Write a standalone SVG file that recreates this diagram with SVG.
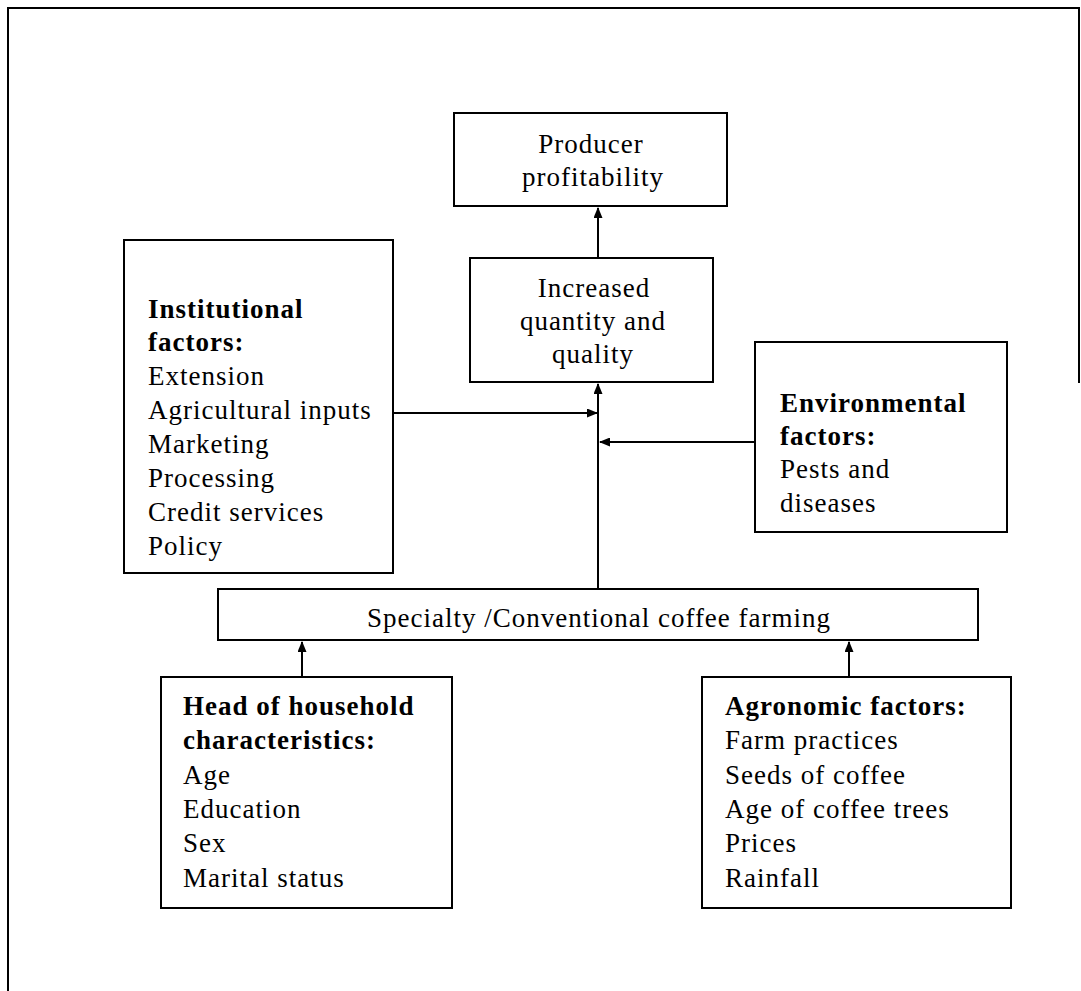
<svg xmlns="http://www.w3.org/2000/svg" width="1081" height="991" viewBox="0 0 1081 991">
<style>
.box{fill:#fff;stroke:#000;stroke-width:2}
.t{font-family:"Liberation Serif","Times New Roman",serif;font-size:27px;letter-spacing:1px;fill:#000}
.b{font-weight:bold}
.c{text-anchor:middle}
.ln{stroke:#000;stroke-width:2;fill:none}
</style>
<defs>
<marker id="ah" markerUnits="userSpaceOnUse" markerWidth="11" markerHeight="9" refX="10" refY="4.5" orient="auto">
<path d="M0,0 L11,4.5 L0,9 z" fill="#000"/>
</marker>
</defs>
<rect width="1081" height="991" fill="#fff"/>
<path class="ln" d="M8,991 V8 H1079 V383"/>
<g id="connectors">
<line class="ln" x1="598" y1="258" x2="598" y2="208" marker-end="url(#ah)"/>
<line class="ln" x1="598" y1="589" x2="598" y2="384" marker-end="url(#ah)"/>
<line class="ln" x1="393" y1="413" x2="597" y2="413" marker-end="url(#ah)"/>
<line class="ln" x1="755" y1="442" x2="600" y2="442" marker-end="url(#ah)"/>
<line class="ln" x1="302" y1="677" x2="302" y2="642" marker-end="url(#ah)"/>
<line class="ln" x1="849" y1="677" x2="849" y2="642" marker-end="url(#ah)"/>
</g>
<g id="producer">
<rect class="box" x="454" y="113" width="273" height="93"/>
<text class="t c" x="591" y="153">Producer</text>
<text class="t c" x="593" y="186">profitability</text>
</g>
<g id="increased">
<rect class="box" x="470" y="258" width="243" height="124"/>
<text class="t c" x="594" y="297">Increased</text>
<text class="t c" x="593" y="330">quantity and</text>
<text class="t c" x="593" y="363">quality</text>
</g>
<g id="institutional">
<rect class="box" x="124" y="240" width="269" height="333"/>
<text class="t b" x="148" y="318">Institutional</text>
<text class="t b" x="148" y="351">factors:</text>
<text class="t" x="148" y="385">Extension</text>
<text class="t" x="148" y="419">Agricultural inputs</text>
<text class="t" x="148" y="453">Marketing</text>
<text class="t" x="148" y="487">Processing</text>
<text class="t" x="148" y="521">Credit services</text>
<text class="t" x="148" y="555">Policy</text>
</g>
<g id="environmental">
<rect class="box" x="755" y="342" width="252" height="190"/>
<text class="t b" x="780" y="412">Environmental</text>
<text class="t b" x="780" y="445">factors:</text>
<text class="t" x="780" y="478">Pests and</text>
<text class="t" x="780" y="512">diseases</text>
</g>
<g id="farming">
<rect class="box" x="218" y="589" width="760" height="51"/>
<text class="t c" x="599" y="627">Specialty /Conventional coffee farming</text>
</g>
<g id="household">
<rect class="box" x="161" y="677" width="291" height="231"/>
<text class="t b" x="183" y="715">Head of household</text>
<text class="t b" x="183" y="749">characteristics:</text>
<text class="t" x="183" y="784">Age</text>
<text class="t" x="183" y="818">Education</text>
<text class="t" x="183" y="852">Sex</text>
<text class="t" x="183" y="887">Marital status</text>
</g>
<g id="agronomic">
<rect class="box" x="702" y="677" width="309" height="231"/>
<text class="t b" x="725" y="715">Agronomic factors:</text>
<text class="t" x="725" y="749">Farm practices</text>
<text class="t" x="725" y="784">Seeds of coffee</text>
<text class="t" x="725" y="818">Age of coffee trees</text>
<text class="t" x="725" y="852">Prices</text>
<text class="t" x="725" y="887">Rainfall</text>
</g>
</svg>
